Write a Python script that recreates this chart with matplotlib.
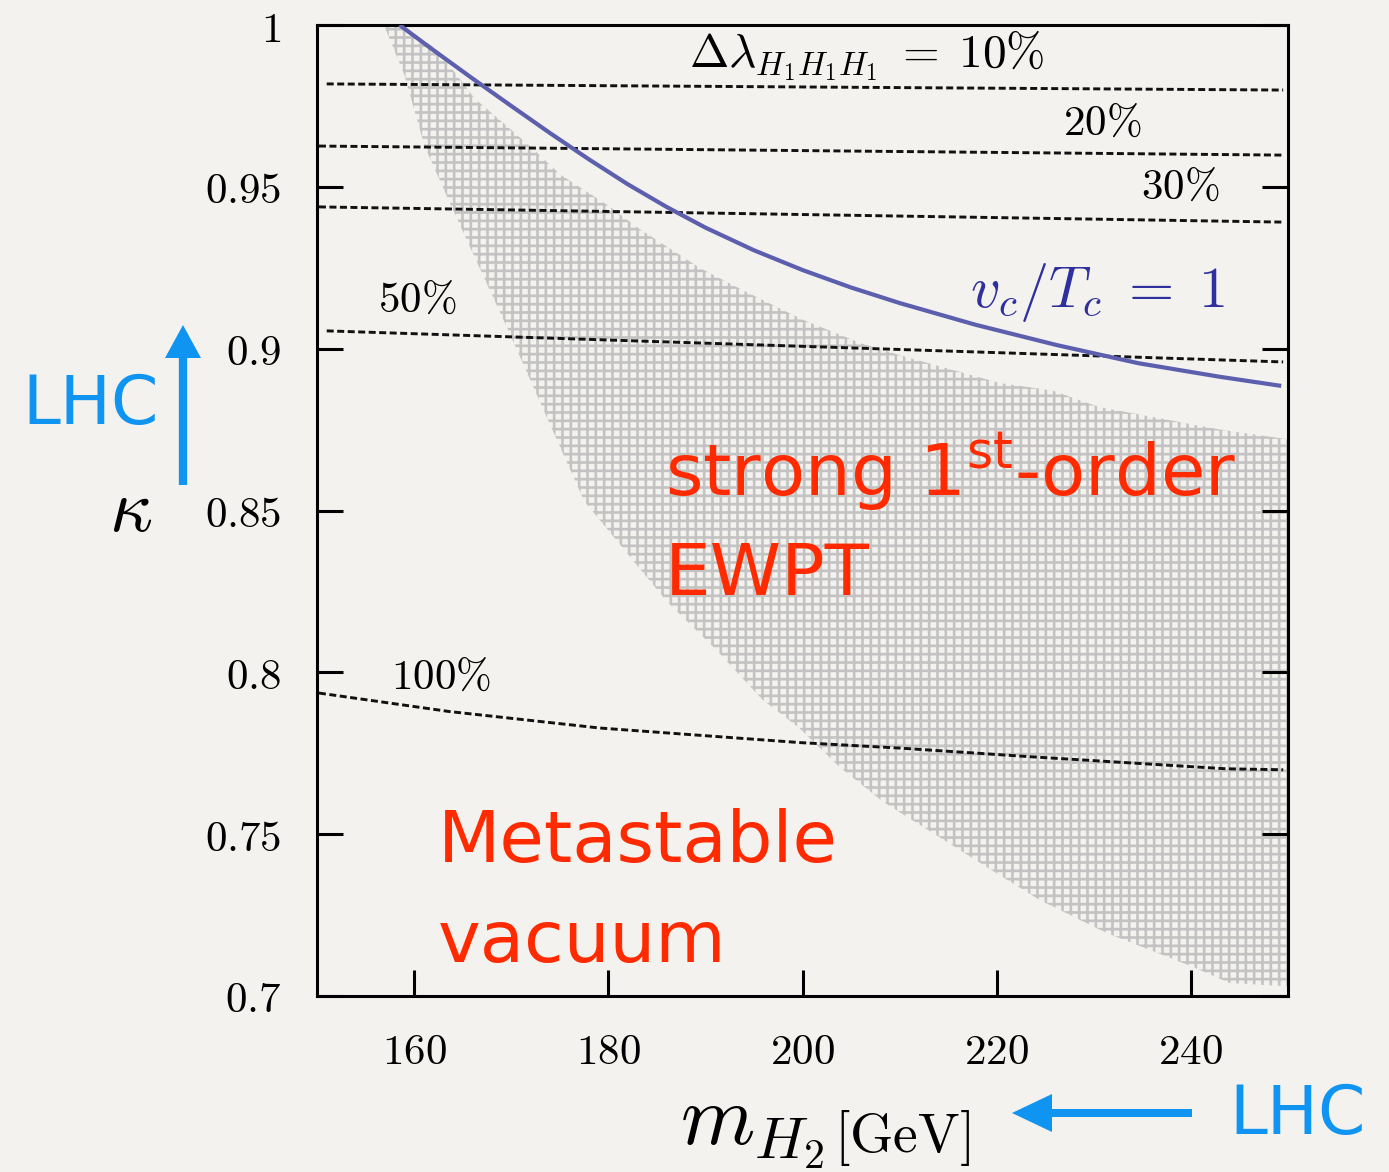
import matplotlib
matplotlib.use("Agg")
import matplotlib.pyplot as plt
from matplotlib.patches import FancyArrow

plt.rcParams['mathtext.fontset'] = 'cm'
plt.rcParams['hatch.linewidth'] = 1.9

# ---------------- data ----------------
# v_c/T_c = 1 contour
vc_m = [158.5, 162, 166, 170, 174, 178, 182, 186, 190, 195, 200, 205, 210,
        217.8, 226.2, 234.6, 243, 249.3]
vc_k = [1.0, 0.9922, 0.9835, 0.9750, 0.9666, 0.9585, 0.9508, 0.9438, 0.9374,
        0.9304, 0.9243, 0.9189, 0.9141, 0.9074, 0.9011, 0.8955, 0.8913, 0.8885]

# strong 1st-order EWPT region: upper boundary and lower boundary (both left->right)
up_m = [156.9, 158.5, 162.2, 164.4, 166.2, 172.0, 175.1, 180.1, 183.2, 189.4, 193.9,
        200, 206, 210, 220.3, 225.8, 230.5, 243, 250]
up_k = [1.0, 1.0, 0.9928, 0.9846, 0.9774, 0.9624, 0.9537, 0.944, 0.937, 0.925, 0.918,
        0.909, 0.9017, 0.898, 0.8894, 0.887, 0.882, 0.875, 0.872]
lo_m = [156.9, 159, 161.1, 163.9, 169.8, 172.9, 177.5, 186, 191.1, 195.9, 199.6, 203.8,
        208.3, 213.4, 218.9, 224.4, 231.3, 240.2, 244, 250]
lo_k = [1.0, 0.9846, 0.9624, 0.9436, 0.905, 0.884, 0.853, 0.822, 0.807, 0.7915, 0.783,
        0.7708, 0.760, 0.7504, 0.740, 0.7297, 0.7195, 0.709, 0.704, 0.703]

# Delta lambda_{H1H1H1} contours (dashed)
dl_labels = ['10%', '20%', '30%', '50%']
dl_m = [[151, 249.5], [150.2, 249.5], [150.2, 249.5], [151, 249.5]]
dl_k = [[0.9818, 0.9799], [0.9626, 0.9598], [0.9438, 0.9391], [0.9055, 0.8959]]
dl100_m = [150.2, 163.6, 179.1, 199.7, 210, 223.6, 243.6, 249.5]
dl100_k = [0.7936, 0.7879, 0.7828, 0.7783, 0.7766, 0.7739, 0.7702, 0.7699]

xticks = [160, 180, 200, 220, 240]
yticks = [0.7, 0.75, 0.8, 0.85, 0.9, 0.95, 1.0]
ytick_labels = ['0.7', '0.75', '0.8', '0.85', '0.9', '0.95', '1']

# ---------------- figure ----------------
W, H = 1389, 1172
bg = '#f4f2ee'
fig = plt.figure(figsize=(W/100, H/100), dpi=100, facecolor=bg)
ax = fig.add_axes([317/W, 176/H, (1288-317)/W, (996-25)/H])
ax.set_facecolor(bg)
ax.set_xlim(150, 250)
ax.set_ylim(0.7, 1.0)

# hatched region
poly_m = up_m + lo_m[::-1]
poly_k = up_k + lo_k[::-1]
ax.fill(poly_m, poly_k, facecolor='none', edgecolor='#c3c3c3', hatch='++', linewidth=0, zorder=1)

# dashed contours
dash = (0, (2.4, 1.2))
for m, k in zip(dl_m, dl_k):
    ax.plot(m, k, color='#111111', lw=2.1, ls=dash, zorder=2)
ax.plot(dl100_m, dl100_k, color='#111111', lw=2.1, ls=dash, zorder=2)

# v_c/T_c = 1
ax.plot(vc_m, vc_k, color='#5c5fae', lw=3.0, zorder=3, solid_capstyle='butt')

# axes styling
for s in ax.spines.values():
    s.set_linewidth(2.2)
    s.set_color('black')
ax.set_xticks(xticks)
ax.set_xticklabels([f'${t}$' for t in xticks])
ax.set_yticks(yticks)
ax.set_yticklabels([f'${t}$' for t in ytick_labels])
ax.tick_params(axis='both', direction='in', length=19, width=2.2, labelsize=31,
               right=True, top=False)
ax.tick_params(axis='y', pad=26)
ax.tick_params(axis='x', pad=25)

# annotations
tsize = 31
ax.text(188.3, 0.9905, r'$\Delta\lambda_{H_1H_1H_1}\;=\;10\%$', fontsize=34, ha='left', va='center')
ax.text(230.9, 0.9697, r'$20\%$', fontsize=tsize, ha='center', va='center')
ax.text(238.9, 0.9500, r'$30\%$', fontsize=tsize, ha='center', va='center')
ax.text(160.3, 0.9150, r'$50\%$', fontsize=tsize, ha='center', va='center')
ax.text(162.8, 0.7986, r'$100\%$', fontsize=tsize, ha='center', va='center')
ax.text(230.4, 0.9175, r'$v_c/T_c\;=\;1$', fontsize=42, color='#2f2f9e', ha='center', va='center')

red = '#ff2a00'
ax.text(185.8, 0.8542, r'strong 1$^{\mathrm{st}}$-order', fontsize=52, color=red,
        family='DejaVu Sans', math_fontfamily='dejavusans', ha='left', va='baseline')
ax.text(185.8, 0.8239, 'EWPT', fontsize=52, color=red, family='DejaVu Sans',
        ha='left', va='baseline')
ax.text(162.4, 0.7414, 'Metastable', fontsize=52, color=red, family='DejaVu Sans',
        ha='left', va='baseline')
ax.text(162.4, 0.7105, 'vacuum', fontsize=52, color=red, family='DejaVu Sans',
        ha='left', va='baseline')

# outside labels
blue = '#0f94f2'
fig.text(131/W, 1 - 511/H, r'$\kappa$', fontsize=54, ha='center', va='center')
fig.text(824/W, 1 - 1145/H, r'$m_{H_2}$', fontsize=61, ha='right', va='baseline')
fig.text(834/W, 1 - 1152/H, r'$[\mathrm{GeV}]$', fontsize=40, ha='left', va='baseline')
fig.text(91/W, 1 - 405/H, 'LHC', fontsize=49, color=blue, family='DejaVu Sans',
         ha='center', va='center')
fig.text(1298/W, 1 - 1115/H, 'LHC', fontsize=49, color=blue, family='DejaVu Sans',
         ha='center', va='center')

# arrows (pixel geometry converted to figure fraction)
fig.add_artist(FancyArrow(183/W, 1 - 485/H, 0, (485 - 358)/H, width=7/H,
                          head_width=36/W, head_length=33/H, length_includes_head=False,
                          transform=fig.transFigure, color=blue, lw=0))
fig.add_artist(FancyArrow(1192/W, 1 - 1113/H, -(1192 - 1052)/W, 0, width=8/H,
                          head_width=38/H, head_length=40/W, length_includes_head=False,
                          transform=fig.transFigure, color=blue, lw=0))

fig.savefig('out.png', dpi=100, facecolor=bg)
